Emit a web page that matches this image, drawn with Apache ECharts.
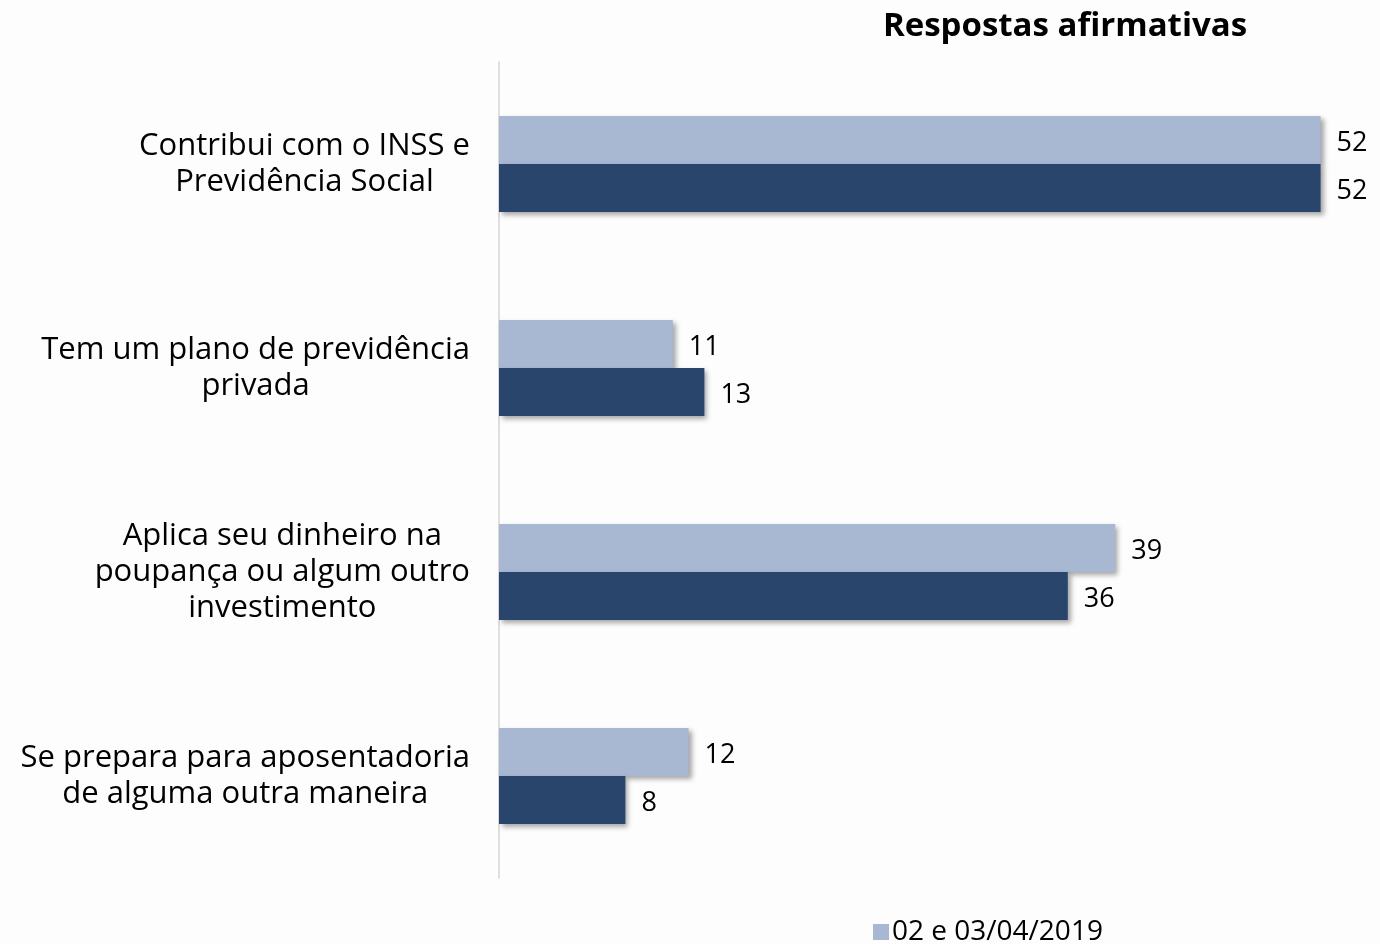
<!DOCTYPE html>
<html>
<head>
<meta charset="utf-8">
<script src="https://cdn.jsdelivr.net/npm/echarts@6/dist/echarts.min.js"></script>
<style>
  html, body { margin: 0; padding: 0; background: #fdfdfd; }
  #chart { width: 1380px; height: 944px; }
</style>
</head>
<body>
<div id="chart"></div>
<script>
// categorias (de cima para baixo)
const categories = [
  'Contribui com o INSS e\nPrevidência Social',
  'Tem um plano de previdência\nprivada',
  'Aplica seu dinheiro na\npoupança ou algum outro\ninvestimento',
  'Se prepara para aposentadoria\nde alguma outra maneira'
];
const seriesNames = ['02 e 03/04/2019', 'Anterior'];
const valuesRecent = [52, 11, 39, 12];
const valuesPrevious = [52, 13, 36, 8];

const FONT = '"Open Sans", "Noto Sans", sans-serif';

const chart = echarts.init(document.getElementById('chart'));

const barShadow = {
  shadowBlur: 5,
  shadowOffsetX: 3,
  shadowOffsetY: 3,
  shadowColor: 'rgba(0,0,0,0.35)'
};

chart.setOption({
  backgroundColor: '#fdfdfd',
  animation: false,
  title: {
    text: 'Respostas afirmativas',
    left: 1060,
    top: 5,
    textAlign: 'center',
    textStyle: { fontFamily: FONT, fontWeight: 'bold', fontSize: 33, color: '#000' }
  },
  legend: {
    data: [seriesNames[0]],
    left: 868,
    top: 913,
    itemWidth: 16,
    itemHeight: 16,
    itemGap: 6,
    icon: 'rect',
    textStyle: { fontFamily: FONT, fontSize: 28, color: '#000', padding: [0, 0, 0, -2] }
  },
  grid: { left: 499, right: 12, top: 62, bottom: 66, containLabel: false },
  xAxis: {
    type: 'value',
    min: 0,
    max: 55,
    show: false,
    splitLine: { show: false }
  },
  yAxis: {
    type: 'category',
    inverse: true,
    data: categories,
    axisTick: { show: false },
    axisLine: { lineStyle: { color: '#d4d4d4', width: 1.5 } },
    axisLabel: {
      margin: 29,
      align: 'right',
      formatter: v => v.split('\n').map(s => '{a|' + s + '}').join('\n'),
      rich: {
        a: { fontFamily: FONT, fontSize: 31, lineHeight: 36, color: '#000', align: 'center' }
      }
    }
  },
  series: [
    {
      name: seriesNames[0],
      type: 'bar',
      data: valuesRecent,
      barWidth: 48,
      barGap: '0%',
      itemStyle: Object.assign({ color: '#a8b7d2' }, barShadow),
      label: {
        show: true, position: 'right', distance: 16, offset: [0, 3],
        fontFamily: FONT, fontSize: 27, color: '#000'
      }
    },
    {
      name: seriesNames[1],
      type: 'bar',
      data: valuesPrevious,
      barWidth: 48,
      barGap: '0%',
      itemStyle: Object.assign({ color: '#29456b' }, barShadow),
      label: {
        show: true, position: 'right', distance: 16, offset: [0, 3],
        fontFamily: FONT, fontSize: 27, color: '#000'
      }
    }
  ]
});
</script>
</body>
</html>
